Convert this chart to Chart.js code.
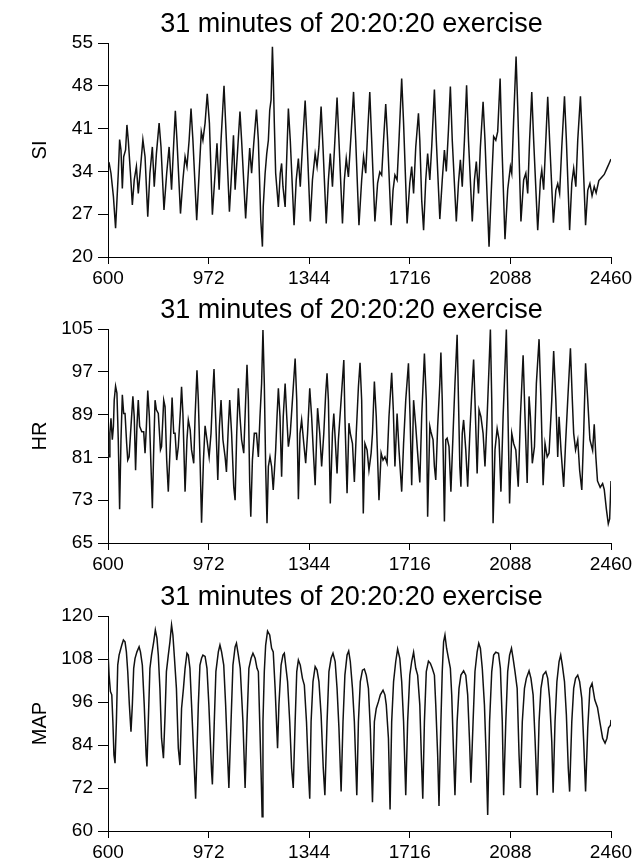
<!DOCTYPE html>
<html lang="en">
<head>
    <meta charset="UTF-8">
    <title>31 minutes of 20:20:20 exercise</title>
    <script src="https://cdn.jsdelivr.net/npm/chart.js"></script>
    <style>
        body { margin: 0; background: #fff; }
        .panel { position: absolute; left: 0; width: 643px; }
    </style>
</head>
<body>
    <div class="panel" style="top:0px"><canvas id="siChart" width="643" height="287"></canvas></div>
    <div class="panel" style="top:286px"><canvas id="hrChart" width="643" height="287"></canvas></div>
    <div class="panel" style="top:573px"><canvas id="mapChart" width="643" height="290"></canvas></div>

    <script>
        const titleText = '31 minutes of 20:20:20 exercise';
        const xTicks = [600, 972, 1344, 1716, 2088, 2460];
        const siTicks = [20, 27, 34, 41, 48, 55];
        const hrTicks = [65, 73, 81, 89, 97, 105];
        const mapTicks = [60, 72, 84, 96, 108, 120];

        // SI (time in s, value)
        const siTime = [
            600, 604, 611, 620, 628, 638, 643, 648, 653, 658,
            665, 670, 675, 683, 690, 697, 705, 712, 720, 729,
            737, 747, 755, 764, 771, 779, 789, 796, 807, 817,
            826, 835, 843, 849, 855, 868, 877, 885, 892, 900,
            907, 914, 928, 937, 945, 951, 959, 967, 975, 986,
            996, 1003, 1011, 1018, 1029, 1035, 1049, 1057, 1064, 1070,
            1080, 1088, 1094, 1109, 1117, 1124, 1131, 1139, 1149, 1156,
            1165, 1171, 1174, 1181, 1187, 1193, 1198, 1203, 1208, 1211,
            1215, 1220, 1230, 1237, 1242, 1247, 1255, 1261, 1267, 1274,
            1288, 1296, 1304, 1311, 1319, 1329, 1336, 1348, 1356, 1366,
            1373, 1380, 1388, 1395, 1407, 1415, 1422, 1430, 1439, 1447,
            1454, 1467, 1474, 1481, 1489, 1499, 1508, 1516, 1528, 1538,
            1545, 1553, 1560, 1568, 1575, 1587, 1597, 1605, 1612, 1619,
            1627, 1634, 1647, 1654, 1661, 1669, 1676, 1686, 1693, 1706,
            1716, 1723, 1730, 1738, 1748, 1753, 1760, 1767, 1775, 1782,
            1790, 1797, 1807, 1814, 1827, 1836, 1844, 1851, 1859, 1866,
            1873, 1888, 1896, 1903, 1910, 1918, 1926, 1933, 1947, 1955,
            1962, 1970, 1977, 1987, 1994, 2009, 2019, 2026, 2034, 2041,
            2050, 2056, 2068, 2078, 2088, 2093, 2100, 2109, 2115, 2127,
            2137, 2145, 2152, 2159, 2167, 2174, 2189, 2199, 2204, 2211,
            2219, 2226, 2233, 2247, 2256, 2263, 2270, 2278, 2288, 2295,
            2307, 2315, 2322, 2330, 2337, 2347, 2354, 2366, 2374, 2382,
            2390, 2398, 2405, 2415, 2425, 2435, 2445, 2455, 2460
        ];
        const siValues = [
            35.6, 35.4, 33.7, 29.9, 24.7, 33.7, 39.2, 37.5, 31.2, 36.4,
            37.5, 41.6, 39.1, 33.7, 28.5, 32.6, 34.8, 30.4, 34.5, 39.2,
            36.4, 26.6, 33.7, 38.0, 31.5, 36.9, 41.9, 38.0, 27.7, 33.7,
            38.0, 31.0, 38.6, 43.9, 39.1, 27.1, 32.6, 36.4, 34.8, 39.1,
            44.3, 39.1, 26.0, 33.7, 40.5, 39.1, 41.9, 46.7, 41.9, 26.9,
            33.7, 38.6, 31.0, 39.1, 48.0, 41.9, 27.4, 33.7, 39.9, 31.0,
            38.0, 43.8, 39.1, 26.3, 32.6, 37.8, 33.7, 38.6, 44.1, 39.1,
            26.0, 21.7, 28.2, 33.7, 36.9, 39.1, 44.0, 45.7, 54.4, 50.0,
            41.9, 33.7, 28.2, 33.7, 35.3, 31.5, 28.2, 36.4, 44.3, 39.1,
            25.2, 32.6, 36.1, 31.5, 38.0, 45.6, 39.1, 25.8, 32.6, 36.9,
            34.8, 38.0, 44.6, 38.0, 25.5, 32.6, 36.9, 31.5, 39.1, 46.1,
            39.1, 25.5, 32.6, 36.1, 33.1, 40.2, 47.0, 39.1, 25.2, 32.6,
            36.4, 33.7, 40.2, 47.0, 39.1, 25.8, 32.1, 33.9, 33.4, 39.1,
            45.0, 39.1, 25.2, 30.9, 33.4, 32.6, 39.1, 49.2, 41.9, 25.5,
            32.1, 34.8, 30.4, 38.0, 43.5, 39.1, 29.3, 24.4, 32.6, 36.9,
            32.6, 38.0, 47.4, 39.1, 26.2, 32.6, 37.5, 34.0, 40.8, 47.9,
            39.1, 25.8, 32.1, 35.9, 31.5, 39.1, 48.1, 39.1, 25.8, 32.6,
            35.6, 30.4, 38.0, 45.4, 39.1, 21.7, 32.6, 39.7, 39.1, 40.5,
            49.2, 39.1, 22.9, 31.0, 34.8, 33.7, 42.4, 52.8, 44.6, 25.8,
            32.6, 33.7, 30.4, 39.1, 47.0, 39.1, 24.4, 32.6, 34.2, 31.0,
            39.1, 46.2, 39.1, 25.6, 30.9, 32.0, 30.4, 38.0, 46.3, 39.1,
            24.4, 32.1, 34.5, 31.5, 39.1, 46.3, 39.1, 25.2, 30.9, 32.0,
            30.0, 31.5, 30.5, 32.5, 33.0, 33.5, 34.5, 35.5, 36.0
        ];

        // HR
        const hrTime = [
            600, 604, 607, 611, 616, 620, 623, 628, 633, 638,
            643, 648, 653, 658, 663, 669, 673, 678, 685, 692,
            697, 702, 707, 712, 717, 725, 732, 737, 742, 747,
            753, 759, 764, 769, 774, 779, 786, 794, 798, 806,
            811, 817, 823, 831, 837, 843, 848, 854, 860, 868,
            872, 877, 885, 892, 897, 904, 909, 917, 922, 929,
            934, 941, 946, 953, 959, 966, 974, 981, 986, 992,
            998, 1006, 1012, 1018, 1025, 1033, 1038, 1045, 1050, 1057,
            1065, 1070, 1076, 1082, 1088, 1094, 1102, 1109, 1114, 1119,
            1124, 1128, 1134, 1141, 1149, 1156, 1162, 1168, 1173, 1178,
            1183, 1188, 1193, 1199, 1205, 1211, 1220, 1225, 1230, 1236,
            1242, 1248, 1255, 1261, 1267, 1274, 1282, 1292, 1298, 1304,
            1310, 1316, 1324, 1331, 1338, 1346, 1353, 1359, 1366, 1372,
            1375, 1383, 1390, 1398, 1405, 1410, 1415, 1422, 1430, 1435,
            1439, 1447, 1452, 1462, 1472, 1476, 1484, 1491, 1496, 1504,
            1511, 1518, 1526, 1532, 1538, 1544, 1550, 1558, 1565, 1573,
            1578, 1585, 1592, 1602, 1610, 1617, 1624, 1632, 1639, 1649,
            1655, 1661, 1669, 1676, 1686, 1693, 1701, 1711, 1717, 1723,
            1730, 1738, 1745, 1753, 1760, 1770, 1777, 1782, 1790, 1794,
            1802, 1807, 1812, 1819, 1827, 1831, 1836, 1844, 1849, 1854,
            1861, 1868, 1876, 1883, 1891, 1896, 1901, 1905, 1910, 1915,
            1923, 1930, 1938, 1945, 1952, 1957, 1965, 1972, 1979, 1987,
            1994, 2002, 2009, 2014, 2019, 2024, 2031, 2039, 2046, 2053,
            2061, 2068, 2073, 2078, 2085, 2093, 2100, 2108, 2117, 2125,
            2135, 2142, 2150, 2157, 2162, 2169, 2177, 2184, 2194, 2201,
            2209, 2216, 2224, 2231, 2241, 2248, 2256, 2263, 2268, 2275,
            2285, 2292, 2300, 2310, 2317, 2322, 2329, 2337, 2344, 2352,
            2359, 2366, 2374, 2382, 2392, 2398, 2404, 2410, 2420, 2429,
            2435, 2443, 2450, 2455, 2460
        ];
        const hrValues = [
            81.8, 81.1, 85.5, 88.3, 84.3, 86.8, 91.7, 94.3, 93.0, 84.3,
            71.3, 84.3, 92.7, 89.2, 89.2, 83.6, 80.5, 81.1, 86.8, 92.4,
            88.6, 78.6, 86.8, 91.7, 86.8, 85.8, 85.8, 81.8, 86.8, 93.5,
            88.6, 79.3, 71.5, 82.4, 91.7, 89.9, 89.2, 82.4, 83.0, 91.7,
            90.5, 80.5, 74.6, 84.3, 92.2, 85.5, 85.5, 80.5, 83.0, 89.9,
            94.2, 89.2, 74.6, 84.3, 88.0, 86.1, 82.4, 79.9, 88.6, 97.3,
            91.7, 79.3, 68.8, 80.5, 86.9, 84.3, 81.1, 85.5, 91.7, 97.5,
            88.6, 76.8, 86.8, 91.7, 84.3, 81.1, 78.3, 86.8, 91.7, 85.5,
            75.5, 73.0, 85.5, 93.9, 88.6, 84.3, 81.8, 91.7, 98.3, 91.7,
            76.2, 69.9, 80.5, 85.5, 85.5, 81.1, 88.6, 94.8, 104.8, 94.8,
            79.3, 68.7, 79.3, 81.1, 79.3, 74.9, 82.4, 88.6, 93.9, 88.6,
            77.4, 88.6, 94.8, 88.6, 83.0, 85.5, 91.7, 99.5, 91.7, 73.2,
            85.5, 88.0, 83.6, 79.9, 85.5, 93.9, 88.6, 82.4, 75.8, 85.5,
            90.2, 85.5, 79.3, 85.5, 93.0, 96.7, 91.7, 72.4, 85.5, 89.2,
            85.5, 78.0, 84.3, 91.7, 99.2, 88.6, 74.3, 87.4, 85.5, 83.6,
            76.4, 85.5, 94.2, 98.7, 91.7, 70.5, 83.6, 82.4, 78.6, 81.8,
            85.5, 95.2, 88.6, 73.0, 81.8, 80.5, 81.1, 79.9, 88.6, 96.8,
            89.9, 79.3, 89.2, 82.4, 74.6, 83.6, 91.7, 98.6, 88.6, 75.8,
            91.7, 86.8, 81.8, 76.3, 88.6, 100.4, 91.7, 69.9, 86.8, 85.8,
            84.3, 79.3, 76.8, 86.8, 94.8, 100.6, 91.7, 69.0, 84.3, 84.6,
            83.0, 74.6, 85.5, 94.8, 103.9, 91.7, 79.3, 75.5, 85.5, 88.0,
            82.4, 75.5, 85.5, 93.0, 99.3, 91.7, 78.0, 89.9, 88.6, 85.5,
            79.3, 88.6, 98.0, 104.9, 91.7, 68.7, 82.4, 86.4, 84.3, 74.6,
            88.6, 98.0, 104.9, 91.7, 72.4, 85.5, 83.6, 82.4, 75.5, 88.6,
            100.1, 88.6, 76.2, 92.4, 88.6, 79.9, 83.0, 94.8, 103.1, 91.7,
            75.8, 83.6, 81.1, 81.8, 91.7, 100.9, 91.7, 81.1, 88.6, 82.4,
            75.5, 83.6, 91.7, 101.4, 91.7, 85.5, 82.4, 84.3, 78.6, 74.9,
            85.5, 98.6, 91.7, 84.3, 82.3, 87.2, 81.1, 76.6, 75.4, 76.1,
            75.0, 71.3, 68.6, 69.5, 76.6
        ];

        // MAP
        const mapTime = [
            600, 604, 609, 614, 618, 622, 626, 631, 636, 641,
            646, 651, 657, 663, 668, 673, 679, 685, 690, 695,
            700, 707, 715, 720, 727, 734, 741, 744, 749, 755,
            761, 769, 775, 781, 786, 792, 798, 805, 811, 816,
            823, 829, 835, 840, 845, 853, 860, 866, 872, 879,
            885, 892, 897, 903, 909, 917, 924, 934, 940, 946,
            951, 959, 966, 973, 983, 986, 993, 999, 1008, 1014,
            1020, 1028, 1035, 1043, 1047, 1055, 1062, 1070, 1075, 1082,
            1089, 1099, 1107, 1114, 1121, 1129, 1136, 1144, 1151, 1156,
            1161, 1166, 1170, 1173, 1178, 1183, 1190, 1198, 1205, 1211,
            1218, 1224, 1227, 1232, 1240, 1247, 1252, 1257, 1264, 1272,
            1279, 1285, 1292, 1298, 1304, 1311, 1319, 1326, 1334, 1341,
            1346, 1351, 1358, 1366, 1373, 1380, 1388, 1396, 1402, 1410,
            1417, 1425, 1432, 1440, 1447, 1454, 1462, 1469, 1476, 1484,
            1490, 1496, 1504, 1511, 1520, 1526, 1533, 1541, 1548, 1555,
            1563, 1570, 1578, 1585, 1592, 1600, 1607, 1617, 1624, 1629,
            1637, 1643, 1649, 1656, 1664, 1671, 1679, 1686, 1693, 1701,
            1708, 1716, 1723, 1730, 1738, 1745, 1753, 1759, 1764, 1770,
            1777, 1785, 1792, 1799, 1807, 1812, 1819, 1824, 1831, 1836,
            1841, 1846, 1852, 1859, 1866, 1871, 1878, 1883, 1891, 1898,
            1905, 1915, 1923, 1930, 1937, 1942, 1950, 1957, 1965, 1971,
            1977, 1984, 1992, 1999, 2004, 2011, 2019, 2026, 2034, 2044,
            2051, 2058, 2063, 2071, 2078, 2085, 2092, 2098, 2105, 2113,
            2120, 2125, 2132, 2140, 2147, 2157, 2164, 2172, 2179, 2187,
            2194, 2201, 2209, 2219, 2226, 2233, 2241, 2246, 2253, 2260,
            2268, 2274, 2280, 2288, 2295, 2302, 2307, 2315, 2322, 2329,
            2337, 2344, 2352, 2359, 2366, 2374, 2382, 2390, 2400, 2410,
            2420, 2429, 2438, 2445, 2451, 2458, 2460
        ];
        const mapValues = [
            110.0, 103.5, 98.9, 98.0, 90.5, 81.2, 78.9, 90.5, 106.3, 109.1,
            110.5, 111.9, 113.3, 112.8, 110.0, 104.5, 95.2, 87.7, 95.2, 105.4,
            108.2, 110.0, 111.4, 110.0, 106.3, 95.2, 81.2, 78.0, 90.5, 105.4,
            109.1, 112.8, 116.1, 113.8, 109.1, 99.8, 85.9, 80.3, 92.4, 104.5,
            109.1, 112.8, 117.5, 114.7, 109.1, 99.8, 83.1, 78.4, 94.2, 99.8,
            105.4, 109.6, 109.1, 105.4, 95.2, 81.2, 69.0, 95.2, 106.3, 108.2,
            109.1, 108.7, 105.4, 95.2, 76.6, 73.0, 90.5, 104.5, 110.0, 111.9,
            110.0, 106.3, 95.2, 79.3, 72.0, 90.5, 106.3, 111.4, 112.4, 109.1,
            105.4, 90.5, 72.0, 90.5, 105.4, 108.2, 109.6, 108.2, 105.4, 104.5,
            90.5, 76.6, 64.0, 90.5, 104.5, 111.9, 115.8, 114.7, 111.0, 110.0,
            99.8, 88.7, 83.1, 95.2, 106.3, 109.1, 109.6, 106.3, 101.7, 90.5,
            77.5, 72.0, 90.5, 104.5, 107.7, 106.3, 102.6, 100.7, 90.5, 76.6,
            69.0, 90.5, 101.7, 105.9, 104.9, 101.7, 92.4, 77.5, 70.0, 90.5,
            104.5, 108.2, 109.6, 107.3, 99.8, 88.7, 71.0, 90.5, 103.5, 109.1,
            110.2, 107.3, 99.8, 90.5, 70.0, 90.5, 101.7, 104.9, 105.2, 103.5,
            99.8, 88.7, 68.0, 90.5, 94.2, 96.1, 98.0, 99.3, 98.0, 95.2,
            85.9, 66.0, 90.5, 101.7, 107.3, 110.8, 108.2, 101.7, 90.5, 70.0,
            90.5, 103.5, 107.3, 109.9, 105.4, 103.5, 95.2, 80.0, 69.0, 90.5,
            104.5, 107.4, 106.8, 105.4, 103.5, 95.2, 81.2, 67.0, 90.5, 104.5,
            112.8, 114.7, 111.0, 108.2, 105.4, 98.0, 81.2, 70.0, 90.5, 99.8,
            103.5, 104.7, 103.5, 98.0, 84.9, 73.5, 90.5, 104.5, 110.0, 112.4,
            111.0, 105.4, 95.2, 79.3, 64.5, 90.5, 104.5, 109.1, 109.9, 109.6,
            105.4, 90.5, 70.0, 90.5, 104.5, 109.1, 111.0, 108.2, 104.5, 99.8,
            81.2, 72.0, 90.5, 99.8, 102.6, 104.7, 102.6, 98.0, 85.9, 70.0,
            90.5, 99.8, 103.5, 104.5, 102.6, 97.0, 84.9, 70.7, 90.5, 101.7,
            107.3, 109.1, 106.3, 101.7, 92.4, 77.5, 71.0, 90.5, 99.8, 102.6,
            103.5, 101.7, 97.0, 84.9, 71.0, 88.7, 99.8, 101.2, 96.6, 94.5,
            89.9, 85.9, 84.5, 85.9, 88.8, 89.5, 91.0
        ];

        const FONT = 'Liberation Sans';

        // title centred a little left of the plot centre, above the plot
        const panelTitle = {
            id: 'panelTitle',
            afterDraw(chart) {
                const ctx = chart.ctx;
                const area = chart.chartArea;
                ctx.save();
                ctx.font = '27px "' + FONT + '"';
                ctx.fillStyle = '#000';
                ctx.textAlign = 'center';
                ctx.textBaseline = 'alphabetic';
                ctx.fillText(titleText, (area.left + area.right) / 2 - 8, area.top - 11);
                ctx.restore();
            }
        };

        function makePanel(id, label, times, values, yTicks) {
            const canvas = document.getElementById(id);
            const plotH = canvas.height - 43 - (canvas.height === 290 ? 32 : 30);
            new Chart(canvas, {
                type: 'line',
                data: {
                    datasets: [{
                        data: times.map((t, i) => ({ x: t, y: values[i] })),
                        borderColor: '#111',
                        borderWidth: 1.5,
                        pointRadius: 0,
                        tension: 0,
                        fill: false
                    }]
                },
                options: {
                    responsive: false,
                    animation: false,
                    devicePixelRatio: 1,
                    layout: { padding: { top: 43, right: 32, bottom: 0, left: 0 } },
                    plugins: { legend: { display: false }, tooltip: { enabled: false } },
                    scales: {
                        x: {
                            type: 'linear',
                            min: xTicks[0],
                            max: xTicks[xTicks.length - 1],
                            afterBuildTicks: s => { s.ticks = xTicks.map(v => ({ value: v })); },
                            afterFit: s => { s.height = canvas.height - 43 - plotH; },
                            grid: { drawOnChartArea: false, drawTicks: true, tickLength: 7, tickColor: '#000' },
                            border: { color: '#000', width: 1 },
                            ticks: {
                                color: '#000', autoSkip: false, maxRotation: 0, padding: 3,
                                font: { family: FONT, size: 19 },
                                callback: v => String(v)
                            }
                        },
                        y: {
                            min: yTicks[0],
                            max: yTicks[yTicks.length - 1],
                            afterBuildTicks: s => { s.ticks = yTicks.map(v => ({ value: v })); },
                            afterFit: s => { s.width = 108; },
                            grid: { drawOnChartArea: false, drawTicks: true, tickLength: 10, tickColor: '#000' },
                            border: { color: '#000', width: 1 },
                            ticks: {
                                color: '#000', padding: 5,
                                font: { family: FONT, size: 19 },
                                callback: v => String(v)
                            },
                            title: {
                                display: true, text: label, color: '#000',
                                font: { family: FONT, size: 20 },
                                padding: { top: 28, bottom: 0 }
                            }
                        }
                    }
                },
                plugins: [panelTitle]
            });
        }

        makePanel('siChart', 'SI', siTime, siValues, siTicks);
        makePanel('hrChart', 'HR', hrTime, hrValues, hrTicks);
        makePanel('mapChart', 'MAP', mapTime, mapValues, mapTicks);
    </script>
</body>
</html>
